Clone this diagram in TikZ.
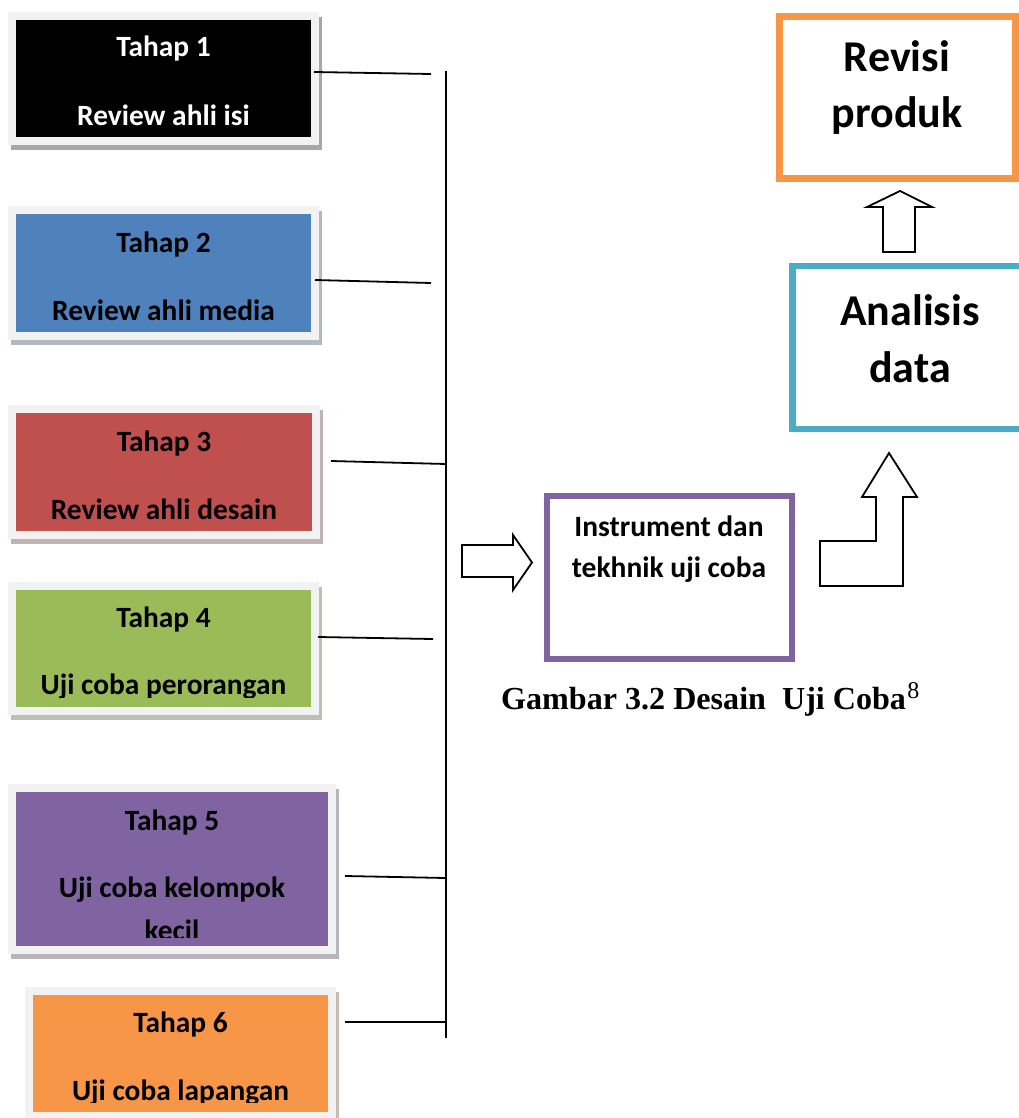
\documentclass[tikz,border=0pt]{standalone}
\usepackage{fontspec}
\setmainfont{Carlito}
\newfontfamily\capfont{Liberation Serif}
\definecolor{frm}{HTML}{F2F2F2}
\definecolor{cblack}{HTML}{000000}
\definecolor{cblue}{HTML}{4F81BD}
\definecolor{cred}{HTML}{C0504D}
\definecolor{cgreen}{HTML}{9BBB59}
\definecolor{cpurple}{HTML}{8064A2}
\definecolor{corange}{HTML}{F79646}
\definecolor{cteal}{HTML}{4BACC6}
\tikzset{
  stage/.style={fill=#1, inner sep=0pt, draw=none},
  stxt/.style={font=\fontsize{29.4}{35}\selectfont\bfseries, inner sep=0pt, anchor=base},
  mtxt/.style={font=\fontsize{29.5}{35}\selectfont\bfseries, inner sep=0pt, anchor=base},
  btxt/.style={font=\fontsize{44}{54}\selectfont\bfseries, inner sep=0pt, anchor=base},
  link/.style={draw=black, line width=1.8pt},
  blockarrow/.style={draw=black, line width=1.8pt, fill=white, line join=miter},
  framed/.style={draw=#1, fill=white, inner sep=0pt},
}
\newcommand\stagebox[6]{%
  \fill[#6!25!gray!55] ({#2-5},{#3-3}) rectangle ({#4+11},{#5+13});
  \fill[frm] ({#2-8},{#3-8}) rectangle ({#4+8},{#5+8});
  \node[stage=#6, minimum width={#4-#2}, minimum height={#5-#3}] (#1) at ({(#2+#4)/2},{(#3+#5)/2}) {};
}
\begin{document}
\begin{tikzpicture}[x=1pt,y=-1pt]
\useasboundingbox[fill=white] (0,0) rectangle (1019,1118);

% stage boxes
\stagebox{s1}{16}{20}{311}{137}{cblack}
\node[stxt, text=white] (t1a) at (163.5,57) {Tahap 1};
\node[stxt, text=white] (t1b) at (163.5,126) {Review ahli isi};

\stagebox{s2}{16}{214}{311}{332}{cblue}
\node[stxt] (t2a) at (163.5,252) {Tahap 2};
\node[stxt] (t2b) at (163.5,320) {Review ahli media};

\stagebox{s3}{16}{413}{312}{531}{cred}
\node[stxt] (t3a) at (164,451) {Tahap 3};
\node[stxt] (t3b) at (164,519) {Review ahli desain};

\stagebox{s4}{16}{590}{311}{707}{cgreen}
\begin{scope}
\clip (16,590) rectangle (311,697);
\node[stxt] (t4a) at (163.5,627) {Tahap 4};
\node[stxt] (t4b) at (163.5,694) {Uji coba perorangan};
\end{scope}

\stagebox{s5}{16}{792}{328}{946}{cpurple}
\begin{scope}
\clip (16,792) rectangle (328,937);
\node[stxt] (t5a) at (172,830) {Tahap 5};
\node[stxt] (t5b) at (172,897) {Uji coba kelompok};
\node[stxt] (t5c) at (172,940) {kecil};
\end{scope}

\stagebox{s6}{33}{995}{328}{1112}{corange}
\begin{scope}
\clip (33,995) rectangle (328,1102);
\node[stxt] (t6a) at (180.5,1032) {Tahap 6};
\node[stxt] (t6b) at (180.5,1100) {Uji coba lapangan};
\end{scope}

% bus and links
\coordinate (bustop) at (446,71);
\coordinate (busbot) at (446,1038);
\draw[link, line width=2pt] (bustop) -- (busbot);
\coordinate (h1a) at (314,72);  \coordinate (h1b) at (431,74);
\coordinate (h2a) at (315,280); \coordinate (h2b) at (431,283);
\coordinate (h3a) at (331,461); \coordinate (h3b) at (446,464);
\coordinate (h4a) at (318,637); \coordinate (h4b) at (433,639);
\coordinate (h5a) at (345,876); \coordinate (h5b) at (446,878);
\coordinate (h6a) at (345,1022); \coordinate (h6b) at (446,1022);
\foreach \i in {1,...,6} {\draw[link] (h\i a) -- (h\i b);}

% right block arrow
\draw[blockarrow] (462,545) -- (513,545) -- (513,535) -- (532,562.5) -- (513,590) -- (513,577) -- (462,577) -- cycle;

% instrument box
\node[framed=cpurple, line width=6pt, minimum width=245, minimum height=163] (inst) at (669.5,577.5) {};
\node[mtxt] (i1) at (669,536) {Instrument dan};
\node[mtxt] (i2) at (669,577) {tekhnik uji coba};

% caption
\node[font=\capfont\fontsize{32.1}{38}\selectfont\bfseries, inner sep=0pt, anchor=base west] (cap) at (501,709) {Gambar 3.2 Desain\ \ Uji Coba};
\node[font=\capfont\fontsize{24}{29}\selectfont, inner sep=0pt, anchor=base west] (capsup) at ([xshift=1pt, yshift=11pt]cap.base east) {8};

% L arrow
\draw[blockarrow] (889,453) -- (917,497) -- (903,497) -- (903,586) -- (820,586) -- (820,541) -- (876,541) -- (876,497) -- (862,497) -- cycle;

% analisis data
\node[framed=cteal, line width=6.5pt, minimum width=247, minimum height=163] (ana) at (916,347.5) {};
\node[btxt] (a1) at (910,325) {Analisis};
\node[btxt] (a2) at (910,382) {data};

% up arrow
\draw[blockarrow] (883,252) -- (883,207) -- (867,207) -- (900,191) -- (932,207) -- (915,207) -- (915,252) -- cycle;

% revisi produk
\node[framed=corange, line width=7pt, minimum width=236, minimum height=162] (rev) at (897.5,97.5) {};
\node[btxt] (r1) at (897,72) {Revisi};
\node[btxt] (r2) at (897,128) {produk};
\end{tikzpicture}
\end{document}
